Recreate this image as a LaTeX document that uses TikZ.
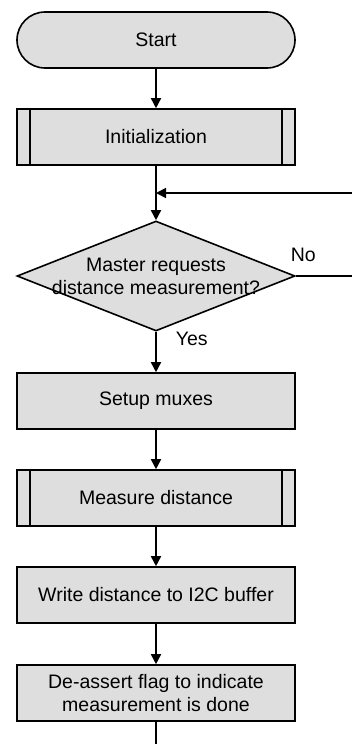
\documentclass[tikz,border=0pt]{standalone}
\usepackage{fontspec}
\setmainfont{Liberation Sans}
\usetikzlibrary{arrows.meta,shapes.geometric}
\definecolor{boxfill}{RGB}{222,222,222}
\begin{document}
\begin{tikzpicture}[x=1pt,y=-1pt,
  font=\fontsize{19.5}{23.5}\selectfont,
  every path/.style={line width=1.6pt},
  flow/.style={-{Triangle[length=10pt,width=10pt]}},
  procbox/.style={draw, fill=boxfill, minimum width=278pt, minimum height=56pt, inner sep=0pt, align=center},
  terminal/.style={procbox, rounded corners=28pt},
  decision/.style={draw, fill=boxfill, diamond, minimum width=278pt, minimum height=110pt, inner sep=0pt},
  lbl/.style={inner sep=0pt}]
\useasboundingbox (0,0) rectangle (352,744);

% process steps
\node[terminal] (start) at (156,40) {Start};
\node[procbox] (init) at (156,137) {Initialization};
\node[decision] (dec) at (156,276) {};
\node[align=center, inner sep=0pt] (dectext) at (156,276.5) {Master requests\\distance measurement?};
\node[procbox] (setup) at (156,401) {Setup muxes};
\node[procbox] (meas) at (156,498) {Measure distance};
\node[procbox] (write) at (156,595) {Write distance to I2C buffer};
\node[procbox] (deassert) at (156,693) {De-assert flag to indicate\\measurement is done};

% side bars of the predefined-process boxes
\foreach \n in {init,meas}{
  \draw ([xshift=14pt]\n.north west) -- ([xshift=14pt]\n.south west);
  \draw ([xshift=-14pt]\n.north east) -- ([xshift=-14pt]\n.south east);
}

% loop points
\coordinate (join) at (156,193);
\coordinate (loopin) at (352,193);
\coordinate (noout) at (352,276);
\coordinate (endpt) at (156,744);

% connectors
\draw[flow] (start) -- (init);
\draw[flow] (init) -- (dec);
\draw[flow] (loopin) -- (join);
\draw (dec.east) -- (noout);
\draw[flow] (dec) -- (setup);
\draw[flow] (setup) -- (meas);
\draw[flow] (meas) -- (write);
\draw[flow] (write) -- (deassert);
\draw (deassert) -- (endpt);

% branch labels
\node[lbl, anchor=west] (nolbl) at (290,255) {No};
\node[lbl, anchor=west] (yeslbl) at (175,339) {Yes};
\end{tikzpicture}
\end{document}
